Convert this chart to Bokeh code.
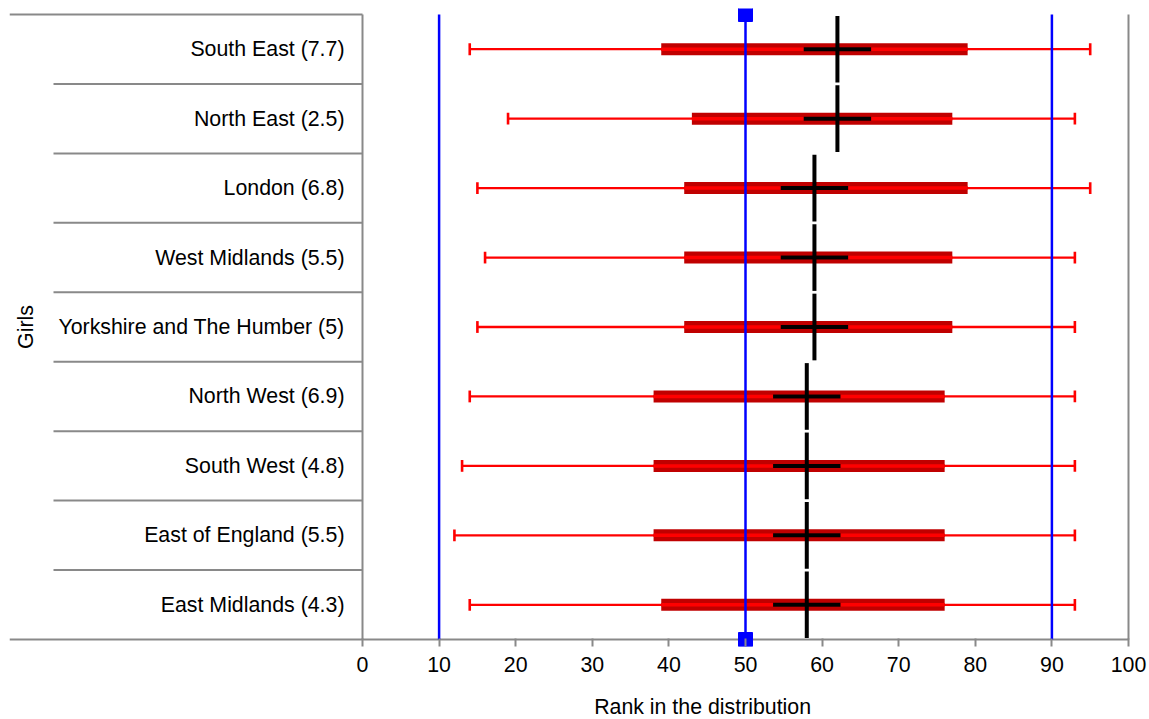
import numpy as np
from bokeh.plotting import figure
from bokeh.models import Range1d, FixedTicker, LinearAxis, ColumnDataSource
from bokeh.core.properties import value
from bokeh.embed import file_html
from bokeh.resources import INLINE

# ---------------- data ----------------
regions = ["South East (7.7)", "North East (2.5)", "London (6.8)", "West Midlands (5.5)",
           "Yorkshire and The Humber (5)", "North West (6.9)", "South West (4.8)",
           "East of England (5.5)", "East Midlands (4.3)"]
whisker_lo = [14, 19, 15, 16, 15, 14, 13, 12, 14]
box_lo = [39, 43, 42, 42, 42, 38, 38, 38, 39]
box_hi = [79, 77, 79, 77, 77, 76, 76, 76, 76]
whisker_hi = [95, 93, 95, 93, 93, 93, 93, 93, 93]
median = [62, 62, 59, 59, 59, 58, 58, 58, 58]
median_lo = [57.6, 57.6, 54.6, 54.6, 54.6, 53.6, 53.6, 53.6, 53.6]
median_hi = [66.4, 66.4, 63.4, 63.4, 63.4, 62.4, 62.4, 62.4, 62.4]
ref_lines = [10, 50, 90]
ref_marker = [50]
x_ticks = list(range(0, 101, 10))
group_label = "Girls"
x_label = "Rank in the distribution"

# ---------------- layout constants (pixels) ----------------
PX = 7.66            # pixels per rank unit
ROW = 625 / 9        # pixels per row
LEFT_PX = 353        # frame left to x=0
RIGHT_PX = 768       # x=0 to frame right
SEP_PX = 309         # separator start to x=0
FRAME_W = LEFT_PX + RIGHT_PX
TOP_PAD = 6          # frame top above the top row
BOT_PAD = 7          # frame bottom below the axis line (tick length)
FRAME_H = 625 + TOP_PAD + BOT_PAD
LABEL_POS = 44.4     # axis-title centre, in rank units

n = len(regions)
ys = [n - i - 0.5 for i in range(n)]
x0 = -LEFT_PX / PX
x1 = RIGHT_PX / PX
y1 = n + TOP_PAD / ROW
y0 = -BOT_PAD / ROW

FONT = "Liberation Sans"
FS = "16pt"
GRAY = "#898989"
RED = "#ff0000"
DARK = "#c00000"
BLUE = "#0000ff"

src = ColumnDataSource(dict(y=ys, region=regions, wlo=whisker_lo, whi=whisker_hi,
                            blo=box_lo, bhi=box_hi, med=median, mlo=median_lo, mhi=median_hi,
                            ytop=[y + 0.48 for y in ys], ybot=[y - 0.48 for y in ys],
                            ctop=[y + 0.085 for y in ys], cbot=[y - 0.085 for y in ys]))

p = figure(frame_width=FRAME_W, frame_height=FRAME_H,
           x_range=Range1d(x0, x1), y_range=Range1d(y0, y1),
           output_backend="svg", toolbar_location=None,
           min_border_left=9, min_border_right=17, min_border_top=8, min_border_bottom=0,
           y_axis_location=None)
p.grid.visible = False
p.outline_line_color = None
p.background_fill_color = "white"

ax = p.xaxis[0]
ax.ticker = FixedTicker(ticks=x_ticks)
ax.axis_line_color = None
ax.major_tick_line_color = GRAY
ax.major_tick_line_width = 2
ax.major_tick_in = BOT_PAD + 1
ax.major_tick_out = 0
ax.minor_tick_line_color = None
ax.major_label_text_font = FONT
ax.major_label_text_font_size = FS
ax.major_label_text_color = "black"
ax.major_label_standoff = 10

# axis title as a single-tick axis so it can sit off-centre
ax2 = LinearAxis(ticker=FixedTicker(ticks=[LABEL_POS]),
                 major_label_overrides={LABEL_POS: x_label},
                 axis_line_color=None, major_tick_line_color=None,
                 minor_tick_line_color=None, major_tick_in=0, major_tick_out=0,
                 major_label_standoff=20, major_label_text_font=FONT,
                 major_label_text_font_size=FS, major_label_text_color="black")
p.add_layout(ax2, "below")

# structural gray lines
sep_x0 = -SEP_PX / PX
p.segment(x0=[sep_x0] * (n - 1), x1=[0] * (n - 1), y0=list(range(1, n)), y1=list(range(1, n)),
          line_color=GRAY, line_width=2)
p.segment(x0=[x0, x0], x1=[0, max(x_ticks)], y0=[n, 0], y1=[n, 0], line_color=GRAY, line_width=2)
p.segment(x0=[0, max(x_ticks)], x1=[0, max(x_ticks)], y0=[0, 0], y1=[n, n],
          line_color=GRAY, line_width=2)

# labels
p.text(x=0, y="y", text="region", source=src, x_offset=-18, text_align="right",
       text_baseline="middle", text_font=value(FONT), text_font_size=value(FS),
       text_color="black")
p.text(x=[x0], y=[n / 2], text=[group_label], x_offset=16, angle=np.pi / 2,
       text_align="center", text_baseline="middle", text_font=value(FONT),
       text_font_size=value(FS), text_color="black")

# whiskers
p.segment(x0="wlo", x1="whi", y0="y", y1="y", source=src, line_color=RED, line_width=2.3)
p.segment(x0="wlo", x1="wlo", y0="cbot", y1="ctop", source=src, line_color=RED, line_width=2.6)
p.segment(x0="whi", x1="whi", y0="cbot", y1="ctop", source=src, line_color=RED, line_width=2.6)
# boxes
p.hbar(y="y", left="blo", right="bhi", height=12 / ROW, source=src, fill_color=DARK, line_color=None)
p.segment(x0="blo", x1="bhi", y0="y", y1="y", source=src, line_color=RED, line_width=3.5)

# reference lines
p.segment(x0=ref_lines, x1=ref_lines, y0=[0] * len(ref_lines), y1=[n] * len(ref_lines),
          line_color=BLUE, line_width=2.5)

# medians
p.segment(x0="mlo", x1="mhi", y0="y", y1="y", source=src, line_color="black", line_width=4)
p.segment(x0="med", x1="med", y0="ybot", y1="ytop", source=src, line_color="black", line_width=4)

# markers at the median reference
p.scatter(x=ref_marker * 2, y=[0, n], marker="square", size=14, fill_color=BLUE,
          line_color=BLUE, line_width=1)

open("out.html", "w").write(file_html(p, INLINE))
